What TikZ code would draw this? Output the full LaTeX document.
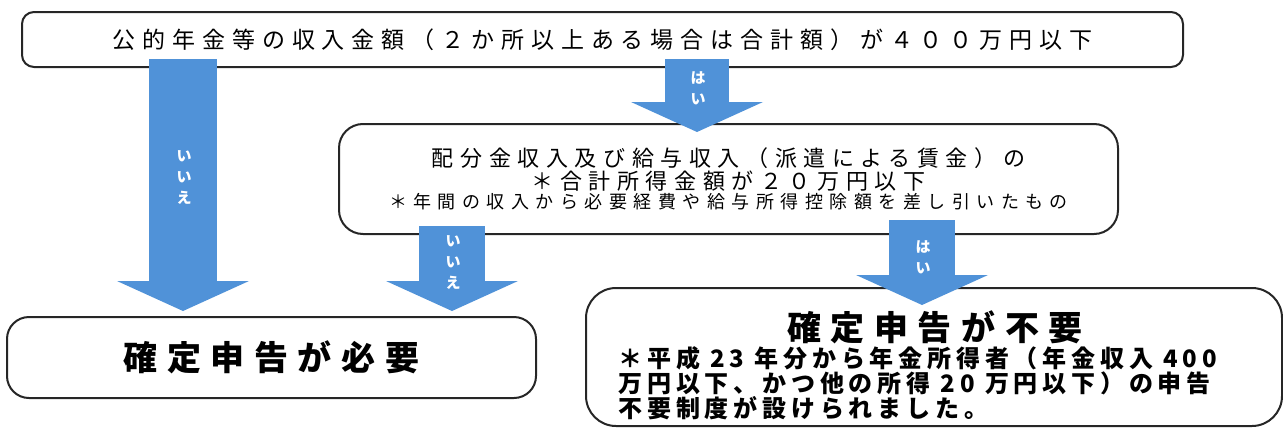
\documentclass[tikz,border=0pt]{standalone}
\usepackage{fontspec}
\usepackage{tikz}
\usetikzlibrary{positioning,arrows.meta,calc}
\newfontfamily\jpm[LetterSpace=30]{Noto Sans CJK JP}
\newfontfamily\jps[LetterSpace=36]{Noto Sans CJK JP}
\newfontfamily\jpb[LetterSpace=28]{Noto Sans CJK JP}
\newfontfamily\jpn[LetterSpace=20]{Noto Sans CJK JP}
\newfontfamily\jpa{Noto Sans CJK JP}
\definecolor{arrowblue}{RGB}{80,146,216}
\tikzset{
  qbox/.style={draw=black!85,line width=1pt,rounded corners=6pt,
              align=center,inner sep=0pt},
  yesno/.style={arrowblue,line width=33pt,
               -{Triangle[length=15pt,width=66pt,line width=0pt]}},
  yesnolbl/.style={text=white,align=center,inner sep=0pt,
                  font=\jpa\bfseries\fontsize{7.5}{10.5}\selectfont},
  result/.style={font=\jpb\bfseries\fontsize{17}{20}\selectfont},
}
\begin{document}
\begin{tikzpicture}[x=0.5pt,y=-0.5pt]
  \useasboundingbox (0,0) rectangle (1283,428);
  \node[qbox,minimum width=580.5pt,minimum height=27.5pt,
        font=\jpm\fontsize{11.5}{12}\selectfont] (income) at (602.5,39.5)
        {公的年金等の収入金額（２か所以上ある場合は合計額）が４００万円以下};
  \node[qbox,rounded corners=12pt,minimum width=389.5pt,minimum height=55pt,
        font=\jpm\fontsize{11}{9.5}\selectfont] (extra) at (728.5,179)
        {配分金収入及び給与収入（派遣による賃金）の\\
         ＊合計所得金額が２０万円以下\\
         {\jps\fontsize{9}{9.5}\selectfont ＊年間の収入から必要経費や給与所得控除額を差し引いたもの}};
  \node[qbox,rounded corners=11pt,minimum width=264.5pt,minimum height=40.5pt,
        result] (need) at (271.5,357.5) {確定申告が必要};
  \node[qbox,rounded corners=15pt,minimum width=348pt,minimum height=69pt]
        (noneed) at (934,357) {};
  \node[result] (noneedttl) at (935,327) {確定申告が不要};
  \node[anchor=west,align=left,inner sep=0pt,
        font=\jpn\bfseries\fontsize{12}{12.5}\selectfont] (noneednote) at (618,383)
        {＊平成 23 年分から年金所得者（年金収入 400\\
         万円以下、かつ他の所得 20 万円以下）の申告\\
         不要制度が設けられました。};
  \draw[yesno,line width=34pt] ($(income.south west)+(162,-9)$) -- ($(need.north west)+(177,-5)$);
  \draw[yesno,line width=32pt] ($(income.south west)+(676,-9)$) -- ($(extra.north west)+(359,9)$);
  \draw[yesno] ($(extra.south west)+(114,-9)$) -- ($(need.north west)+(446,-5)$);
  \draw[yesno] ($(extra.south west)+(584,-15)$) -- ($(noneed.north west)+(337,18)$);
  \node[yesnolbl] (no1) at (184,178) {い\\い\\え};
  \node[yesnolbl] (yes1) at (698,88) {は\\い};
  \node[yesnolbl] (no2) at (453,263) {い\\い\\え};
  \node[yesnolbl] (yes2) at (923,257) {は\\い};
\end{tikzpicture}
\end{document}
